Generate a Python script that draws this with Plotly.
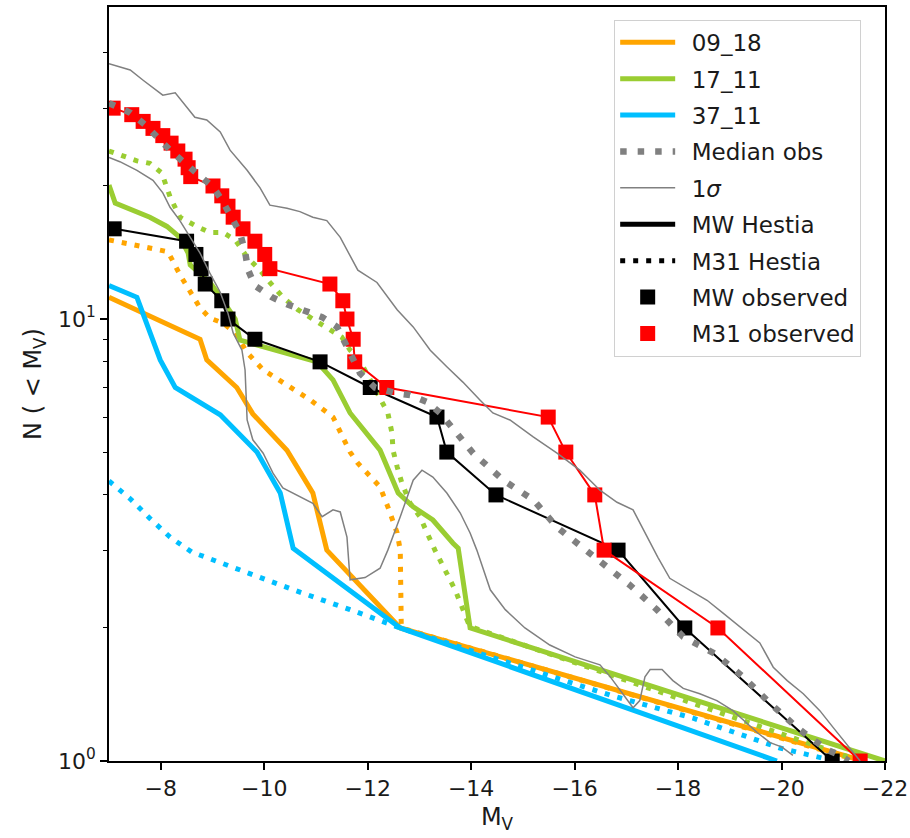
import plotly.graph_objects as go

# ---------------- data ----------------
# 09_18 simulation
S0918_MW_MV = [-7.0, -8.76, -8.89, -9.47, -9.78, -10.44, -10.94, -11.21, -12.63, -21.58]
S0918_MW_N = [11.2, 9.0, 8.08, 7.0, 6.1, 5.05, 4.04, 3.0, 2.0, 1.0]
S0918_M31_MV = [-7.0, -7.89, -8.14, -8.37, -8.53, -8.76, -8.95, -9.2, -9.44, -9.67, -9.98, -10.44,
                -10.89, -11.33, -11.52, -11.66, -11.81, -12.05, -12.24, -12.39, -12.57, -12.63, -12.65, -21.52]
S0918_M31_N = [15.1, 14.4, 14.2, 12.6, 11.75, 10.6, 10.05, 9.8, 9.3, 8.4, 7.67, 7.09,
               6.56, 6.0, 5.41, 5.0, 4.72, 4.39, 4.17, 3.76, 3.28, 3.0, 2.0, 1.0]
# 17_11 simulation
S1711_MW_MV = [-7.0, -7.12, -7.79, -8.12, -8.37, -8.53, -8.57, -8.76, -8.95, -9.09, -9.28, -9.44, -9.53,
               -11.02, -11.33, -11.66, -12.24, -12.59, -12.88, -13.26, -13.65, -13.75, -13.98, -22.0]
S1711_MW_N = [20.1, 18.3, 17.0, 16.2, 15.3, 14.1, 13.25, 12.7, 12.1, 11.5, 10.6, 10.0, 8.96,
              8.0, 7.28, 6.13, 5.05, 4.04, 3.76, 3.51, 3.11, 3.03, 2.0, 1.0]
S1711_M31_MV = [-7.0, -7.54, -7.79, -8.02, -8.18, -8.37, -8.7, -8.95, -9.2, -9.44, -9.67, -9.92, -10.11,
                -10.36, -10.65, -10.94, -11.27, -11.5, -11.66, -11.81, -12.05, -12.24, -12.39, -12.47,
                -12.49, -12.57, -12.66, -12.82, -13.01, -13.15, -13.3, -13.69, -13.94, -14.06, -21.52]
S1711_M31_N = [24.0, 22.8, 22.5, 21.4, 18.9, 17.0, 16.2, 15.7, 15.7, 15.1, 13.8, 12.9, 12.1,
               11.2, 10.5, 10.0, 9.44, 9.1, 8.5, 8.2, 7.28, 6.56, 6.13, 5.52,
               5.05, 4.63, 4.26, 3.83, 3.57, 3.28, 3.0, 2.44, 2.06, 2.0, 1.0]
# 37_11 simulation
S3711_MW_MV = [-7.0, -7.54, -7.99, -8.28, -9.15, -9.86, -10.31, -10.56, -12.63, -19.91]
S3711_MW_N = [11.9, 11.2, 8.08, 7.0, 6.07, 5.0, 4.04, 3.03, 2.0, 1.0]
S3711_M31_MV = [-7.0, -7.41, -7.79, -8.18, -8.6, -9.11, -9.86, -10.69, -11.66, -12.63, -16.68,
                -18.29, -19.97, -20.78, -20.86]
S3711_M31_N = [4.3, 3.92, 3.54, 3.21, 2.97, 2.82, 2.61, 2.41, 2.2, 2.0, 1.41,
               1.25, 1.07, 1.016, 1.0]

# observed median and 1 sigma band
MED_MV = [-7.0, -7.41, -7.7, -7.93, -8.18, -8.47, -8.72, -9.01, -9.18, -9.38, -9.53, -9.63, -9.69, -9.82,
          -10.15, -10.44, -10.75, -11.12, -11.41, -11.62, -11.85, -12.14, -12.53, -12.82, -13.15, -13.4,
          -13.63, -14.04, -14.62, -15.2, -15.66, -16.05, -16.49, -17.07, -17.59, -18.1, -18.71, -19.26,
          -19.78, -20.3, -20.88, -21.13, -21.3]
MED_N = [30.8, 29.3, 27.5, 25.7, 24.1, 22.5, 21.2, 19.9, 18.6, 17.0, 15.7, 14.2, 12.9, 11.9,
         11.2, 10.8, 10.5, 10.1, 9.6, 8.6, 7.55, 7.0, 6.8, 6.73, 6.49, 6.13,
         5.67, 4.97, 4.32, 3.9, 3.38, 3.11, 2.85, 2.5, 2.2, 1.91, 1.75, 1.55,
         1.35, 1.19, 1.06, 1.03, 1.0]
SIG_HI_MV = [-7.0, -7.41, -7.66, -8.04, -8.28, -8.66, -8.89, -9.15, -9.34, -9.67, -9.92, -10.11, -10.44,
             -10.69, -10.94, -11.21, -11.47, -11.6, -11.81, -12.18, -12.57, -12.88, -13.21, -13.53,
             -13.84, -14.17, -14.42, -14.75, -15.2, -15.66, -16.1, -16.49, -16.82, -17.13, -17.4,
             -17.61, -17.84, -18.23, -18.56, -18.87, -19.26, -19.58, -19.84, -20.11, -20.42, -20.74,
             -21.0, -21.27, -21.52]
SIG_HI_N = [37.8, 36.6, 34.7, 32.1, 32.5, 28.6, 28.2, 26.5, 24.1, 21.7, 19.8, 18.1, 17.8,
            17.5, 17.0, 16.7, 15.3, 14.3, 12.9, 12.1, 10.5, 9.6, 8.5, 7.8,
            7.2, 6.56, 6.13, 5.91, 5.41, 4.97, 4.55, 4.1, 3.85, 3.7, 3.21,
            2.89, 2.59, 2.44, 2.31, 2.16, 1.98, 1.85, 1.63, 1.52, 1.42, 1.3,
            1.19, 1.09, 1.0]
SIG_LO_MV = [-7.0, -7.21, -7.54, -7.85, -8.04, -8.18, -8.37, -8.57, -8.76, -8.95, -9.15, -9.3, -9.4,
             -9.57, -9.63, -9.67, -9.78, -9.98, -10.17, -10.36, -10.69, -10.94, -11.12, -11.33, -11.47,
             -11.6, -11.66, -11.95, -12.24, -12.39, -12.63, -12.88, -13.05, -13.26, -13.53, -13.79,
             -13.98, -14.11, -14.37, -14.66, -15.04, -15.52, -16.01, -16.49, -16.69, -16.88, -17.13,
             -17.26, -17.36, -17.46, -17.69, -17.9, -18.1, -18.42, -18.75, -19.06, -19.33, -19.53,
             -19.78, -20.01, -20.22]
SIG_LO_N = [23.2, 22.7, 21.7, 20.6, 19.3, 17.9, 16.7, 15.3, 14.1, 12.7, 11.5, 10.3, 9.3,
            8.5, 7.67, 5.91, 5.33, 4.97, 4.48, 4.15, 3.96, 3.83, 3.57, 3.7, 3.66,
            3.21, 2.57, 2.6, 2.73, 3.0, 3.57, 4.32, 4.55, 4.39, 4.04, 3.64,
            3.28, 3.0, 2.44, 2.2, 2.0, 1.83, 1.72, 1.65, 1.55, 1.45, 1.32,
            1.37, 1.55, 1.61, 1.61, 1.52, 1.46, 1.42, 1.37, 1.3, 1.22, 1.16,
            1.1, 1.075, 1.03]

# observed satellites
MW_OBS_MV = [-7.1, -8.5, -8.68, -8.78, -8.86, -9.18, -9.3, -9.82, -11.08, -12.05, -13.34, -13.53,
             -14.48, -16.84, -18.13, -20.98]
MW_OBS_N = [16, 15, 14, 13, 12, 11, 10, 9, 8, 7, 6, 5, 4, 3, 2, 1]
M31_OBS_MV = [-7.08, -7.44, -7.66, -7.85, -8.04, -8.2, -8.33, -8.47, -8.53, -8.58, -9.01, -9.18, -9.3,
              -9.4, -9.59, -9.82, -10.01, -10.11, -11.27, -11.52, -11.6, -11.72, -11.75, -12.37,
              -15.49, -15.83, -16.39, -16.57, -18.77, -21.52]
M31_OBS_N = list(range(30, 0, -1))

X_TICKS = [-8, -10, -12, -14, -16, -18, -20, -22]
X_TICK_TEXT = ["\u22128", "\u221210", "\u221212", "\u221214", "\u221216", "\u221218", "\u221220", "\u221222"]
Y_TICKS = [1, 10]
Y_TICK_TEXT = ["10<sup>0</sup>", "10<sup>1</sup>"]
Y_MINOR = [2, 3, 4, 5, 6, 7, 8, 9, 20, 30, 40]

LEGEND_NAMES = ["09_18", "17_11", "37_11", "Median obs", "1<i>σ</i>", "MW Hestia", "M31 Hestia",
                "MW observed", "M31 observed"]

ORANGE = "#FFA500"
GREEN = "#9ACD32"
BLUE = "#00BFFF"
GRAY = "#808080"
TXT = "#1a1a1a"

FONT = "DejaVu Sans"
SIM_W = 5
SIM_DOT = "5px,8px"
MED_DOT = "6.5px,11px"

fig = go.Figure()

sims = [
    (S0918_MW_MV, S0918_MW_N, S0918_M31_MV, S0918_M31_N, ORANGE),
    (S1711_MW_MV, S1711_MW_N, S1711_M31_MV, S1711_M31_N, GREEN),
    (S3711_MW_MV, S3711_MW_N, S3711_M31_MV, S3711_M31_N, BLUE),
]
for mwx, mwy, m31x, m31y, col in sims:
    fig.add_trace(go.Scatter(x=mwx, y=mwy, mode="lines", line=dict(color=col, width=SIM_W),
                             showlegend=False, hoverinfo="skip"))
    fig.add_trace(go.Scatter(x=m31x, y=m31y, mode="lines",
                             line=dict(color=col, width=SIM_W, dash=SIM_DOT),
                             showlegend=False, hoverinfo="skip"))

# observed
fig.add_trace(go.Scatter(x=MW_OBS_MV, y=MW_OBS_N, mode="lines+markers",
                         line=dict(color="black", width=2),
                         marker=dict(symbol="square", size=15, color="black"),
                         showlegend=False))
fig.add_trace(go.Scatter(x=M31_OBS_MV, y=M31_OBS_N, mode="lines+markers",
                         line=dict(color="red", width=2),
                         marker=dict(symbol="square", size=15, color="red"),
                         showlegend=False))
# median and 1 sigma
fig.add_trace(go.Scatter(x=MED_MV, y=MED_N, mode="lines",
                         line=dict(color=GRAY, width=6.5, dash=MED_DOT), showlegend=False))
fig.add_trace(go.Scatter(x=SIG_HI_MV, y=SIG_HI_N, mode="lines",
                         line=dict(color=GRAY, width=1.5), showlegend=False))
fig.add_trace(go.Scatter(x=SIG_LO_MV, y=SIG_LO_N, mode="lines",
                         line=dict(color=GRAY, width=1.5), showlegend=False))

# legend proxies
legend_styles = [
    dict(mode="lines", line=dict(color=ORANGE, width=SIM_W)),
    dict(mode="lines", line=dict(color=GREEN, width=SIM_W)),
    dict(mode="lines", line=dict(color=BLUE, width=SIM_W)),
    dict(mode="lines", line=dict(color=GRAY, width=6.5, dash=MED_DOT)),
    dict(mode="lines", line=dict(color=GRAY, width=1.5)),
    dict(mode="lines", line=dict(color="black", width=SIM_W)),
    dict(mode="lines", line=dict(color="black", width=SIM_W, dash=SIM_DOT)),
    dict(mode="markers", marker=dict(symbol="square", size=15, color="black")),
    dict(mode="markers", marker=dict(symbol="square", size=15, color="red")),
]
for i, (name, kw) in enumerate(zip(LEGEND_NAMES, legend_styles)):
    fig.add_trace(go.Scatter(x=[None], y=[None], name="\u2002" + name, showlegend=True,
                             legendgroup=f"g{i}", **kw))

axis_common = dict(showline=True, linecolor="black", linewidth=1.5, mirror=True,
                   ticks="outside", ticklen=7, tickwidth=1.5, tickcolor="black",
                   showgrid=False, zeroline=False, automargin=False,
                   tickfont=dict(family=FONT, size=22, color=TXT))

fig.update_xaxes(range=[-7, -22], tickmode="array", tickvals=X_TICKS, ticktext=X_TICK_TEXT,
                 title=dict(text="M<sub>V</sub>", font=dict(family=FONT, size=24, color=TXT),
                            standoff=8),
                 **axis_common)
fig.update_yaxes(type="log", range=[0, 1.706], tickmode="array", tickvals=Y_TICKS,
                 ticktext=Y_TICK_TEXT,
                 minor=dict(tickmode="array", tickvals=Y_MINOR, ticks="outside", ticklen=4,
                            tickwidth=1.2, tickcolor="black", showgrid=False),
                 title=dict(text="N ( < M<sub>V</sub>)", font=dict(family=FONT, size=24, color=TXT),
                            standoff=10),
                 **axis_common)

fig.update_layout(
    width=910, height=838,
    margin=dict(l=109, r=25, t=7, b=77),
    plot_bgcolor="white", paper_bgcolor="white",
    font=dict(family=FONT, size=22, color=TXT),
    legend=dict(x=0.651, y=0.983, xanchor="left", yanchor="top",
                bgcolor="white", bordercolor="#d0d0d0", borderwidth=1,
                font=dict(family=FONT, size=23, color=TXT),
                itemwidth=55, tracegroupgap=3.5, traceorder="grouped"),
    showlegend=True,
)

fig.write_html("out.html")
